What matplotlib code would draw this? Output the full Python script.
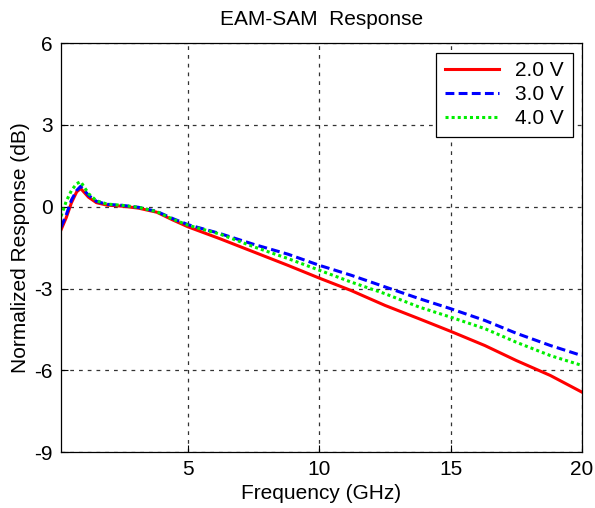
import matplotlib.pyplot as plt

plt.rcParams['font.family'] = ['Liberation Sans', 'DejaVu Sans']
plt.rcParams['axes.unicode_minus'] = False

freq = [0.15, 0.35, 0.55, 0.75, 0.9, 1.2, 1.5, 1.9, 2.5, 3.1, 3.8, 4.4, 5.0,
        6.2, 7.5, 8.8, 10.0, 11.2, 12.5, 13.8, 15.0, 16.3, 17.5, 18.8, 20.0]
v2 = [-0.85, -0.4, 0.15, 0.55, 0.67, 0.35, 0.15, 0.06, 0.02, -0.05, -0.2, -0.48, -0.74,
      -1.17, -1.66, -2.15, -2.62, -3.07, -3.62, -4.11, -4.57, -5.09, -5.64, -6.19, -6.8]
v3 = [-0.75, -0.3, 0.25, 0.6, 0.75, 0.42, 0.2, 0.09, 0.05, -0.02, -0.17, -0.43, -0.66,
      -0.98, -1.38, -1.74, -2.15, -2.51, -2.94, -3.37, -3.74, -4.17, -4.64, -5.09, -5.46]
v4 = [-0.35, 0.2, 0.6, 0.85, 0.92, 0.48, 0.22, 0.1, 0.05, -0.02, -0.18, -0.45, -0.68,
      -1.0, -1.47, -1.9, -2.33, -2.76, -3.19, -3.68, -4.05, -4.47, -4.97, -5.46, -5.82]
labels = ['2.0 V', '3.0 V', '4.0 V']

fig = plt.figure(figsize=(5.95, 5.08), dpi=100)
ax = fig.add_axes([0.1025, 0.110, 0.8755, 0.805])

ax.plot(freq, v2, color='#ff0000', lw=2.2, label=labels[0])
ax.plot(freq, v3, color='#0000ff', lw=2.2, dashes=(2.9, 1.4), label=labels[1])
ax.plot(freq, v4, color='#00ee00', lw=2.2, dashes=(1, 1), label=labels[2])

ax.set_xlim(0.15, 20)
ax.set_ylim(-9, 6)
ax.set_xticks([5, 10, 15, 20])
ax.set_yticks([-9, -6, -3, 0, 3, 6])
ax.tick_params(direction='in', length=5, labelsize=15, width=0.8, pad=6)
ax.grid(True, color='#333333', linestyle=(0, (3, 4)), linewidth=0.9)
for s in ax.spines.values():
    s.set_linewidth(0.9)

ax.set_title('EAM-SAM  Response', fontsize=15, pad=13)
ax.set_xlabel('Frequency (GHz)', fontsize=15, labelpad=3)
ax.set_ylabel('Normalized Response (dB)', fontsize=15, labelpad=3)

leg = ax.legend(loc='upper right', fontsize=15, fancybox=False, framealpha=1,
                edgecolor='black', handlelength=2.6, borderaxespad=0.45,
                labelspacing=0.25)
leg.get_frame().set_linewidth(0.9)

fig.savefig('out.png', dpi=100)
